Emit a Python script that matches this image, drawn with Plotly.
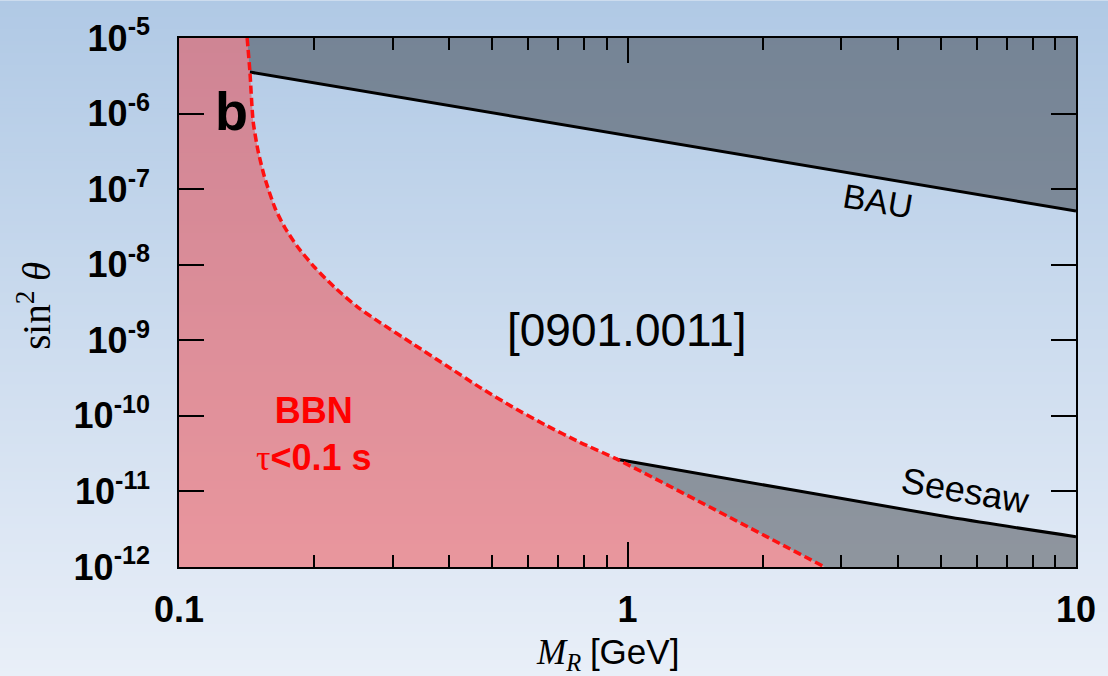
import plotly.graph_objects as go

# ---------------- data ----------------
bbn_mass = [0.1419, 0.1439, 0.1463, 0.1501, 0.1553, 0.1636, 0.1722, 0.1843, 0.2008,
            0.2224, 0.2506, 0.2802, 0.3323, 0.3943, 0.4677, 0.5546, 0.6583, 0.7806,
            0.947, 2.752]
bbn_sin2 = [1e-5, 3.61e-6, 7.91e-7, 3.18e-7, 1.414e-7, 5.68e-8, 3.10e-8, 1.686e-8, 9.19e-9,
            5.00e-9, 2.725e-9, 1.728e-9, 8.97e-10, 4.64e-10, 2.40e-10, 1.306e-10, 7.49e-11,
            4.51e-11, 2.67e-11, 1e-12]

bau_mass = [0.1439, 10.0]
bau_sin2 = [3.54e-6, 5.14e-8]

seesaw_mass = [0.947, 2.411, 5.2, 10.0]
seesaw_sin2 = [2.67e-11, 1.01e-11, 4.58e-12, 2.52e-12]

x_range = [0.1, 10.0]
y_range = [1e-12, 1e-5]

y_tickvals = [1e-5, 1e-6, 1e-7, 1e-8, 1e-9, 1e-10, 1e-11, 1e-12]
y_ticktext = ["10<sup>-5</sup>", "10<sup>-6</sup>", "10<sup>-7</sup>", "10<sup>-8</sup>",
              "10<sup>-9</sup>", "10<sup>-10</sup>", "10<sup>-11</sup>", "10<sup>-12</sup>"]
x_tickvals = [0.1, 1, 10]
x_ticktext = ["0.1", "1", "10"]
x_minor_vals = [0.2, 0.3, 0.4, 0.5, 0.6, 0.7, 0.8, 0.9, 2, 3, 4, 5, 6, 7, 8, 9]

# ---------------- figure ----------------
W, H = 1108, 676
ML, MR, MT, MB = 179, 30, 37, 109
PH = H - MT - MB

fig = go.Figure()

# red BBN region
red_x = [x_range[0]] + bbn_mass + [x_range[0]]
red_y = [y_range[1]] + bbn_sin2 + [y_range[0]]
fig.add_trace(go.Scatter(x=red_x, y=red_y, fill="toself", mode="none",
                         fillcolor="rgba(245,35,35,0.42)", hoverinfo="skip", showlegend=False))

# BAU excluded region (above the line)
bau_x = bau_mass + [x_range[1], bbn_mass[0]]
bau_y = bau_sin2 + [y_range[1], y_range[1]]
fig.add_trace(go.Scatter(x=bau_x, y=bau_y, fill="toself", mode="none",
                         fillcolor="rgba(55,62,70,0.5)", hoverinfo="skip", showlegend=False))

# Seesaw excluded region (below the line, right of BBN)
ss_x = seesaw_mass + [x_range[1], bbn_mass[-1]]
ss_y = seesaw_sin2 + [y_range[0], y_range[0]]
fig.add_trace(go.Scatter(x=ss_x, y=ss_y, fill="toself", mode="none",
                         fillcolor="rgba(62,66,72,0.5)", hoverinfo="skip", showlegend=False))

# lines
fig.add_trace(go.Scatter(x=bau_mass, y=bau_sin2, mode="lines",
                         line=dict(color="black", width=3), showlegend=False))
fig.add_trace(go.Scatter(x=seesaw_mass, y=seesaw_sin2, mode="lines",
                         line=dict(color="black", width=3, shape="spline"), showlegend=False))
fig.add_trace(go.Scatter(x=bbn_mass, y=bbn_sin2, mode="lines",
                         line=dict(color="#ff1010", width=3.5, dash="8px,4px", shape="spline",
                                   smoothing=0.6),
                         showlegend=False))

# background gradient
top = (176, 201, 229)
bot = (233, 239, 248)
shapes = []
step = 4
for py in range(0, H, step):
    t = (py + step / 2) / H
    c = tuple(int(round(top[i] + (bot[i] - top[i]) * t)) for i in range(3))
    y1 = (H - MB - py) / PH
    y0 = (H - MB - py - step - 1) / PH
    shapes.append(dict(type="rect", xref="paper", yref="paper", x0=-0.3, x1=1.1,
                       y0=y0, y1=y1, fillcolor="rgb(%d,%d,%d)" % c,
                       line=dict(width=0), layer="below"))

def px2paper(px, py):
    return (px - ML) / (W - ML - MR), (H - MB - py) / PH

annots = []
def ann(text, px, py, size, color="black", family="Liberation Sans", weight="normal",
        angle=0):
    x, y = px2paper(px, py)
    annots.append(dict(text=text, x=x, y=y, xref="paper", yref="paper", showarrow=False,
                       xanchor="center", yanchor="middle", textangle=angle,
                       font=dict(size=size, color=color, family=family, weight=weight)))

ann("b", 232, 110, 54, weight="bold")
ann("BBN<br><span style='font-family:Liberation Serif;font-weight:normal'>τ</span><0.1 s",
    314, 434, 36, color="#ff0000", weight="bold")
ann("[0901.0011]", 628, 330, 46)
ann("BAU", 880, 200, 34, angle=9.6)
ann("Seesaw", 967, 490, 36, angle=9.6)
ann("sin<sup>2</sup> <i>θ</i>", 34, 305, 39, family="Liberation Serif", angle=-90)
ann("<i>M</i><sub><i>R</i></sub> <span style='font-family:Liberation Sans'>[GeV]</span>",
    608, 654, 35, family="Liberation Serif")

fig.update_layout(
    width=W, height=H,
    margin=dict(l=ML, r=MR, t=MT, b=MB, pad=0),
    paper_bgcolor="rgb(205,220,238)",
    plot_bgcolor="rgba(0,0,0,0)",
    shapes=shapes,
    annotations=annots,
    showlegend=False,
)

fig.update_xaxes(type="log", range=[-1, 1], showgrid=False, zeroline=False,
                 showline=True, linecolor="black", linewidth=1.5, mirror="ticks",
                 ticks="inside", ticklen=25, tickwidth=1.5, tickcolor="black",
                 tickvals=x_tickvals, ticktext=x_ticktext,
                 tickfont=dict(family="Liberation Sans", size=36, color="black", weight="bold"),
                 ticklabelstandoff=10,
                 minor=dict(ticks="inside", ticklen=12, tickwidth=1.5, tickcolor="black",
                            showgrid=False, tickvals=x_minor_vals))
fig.update_yaxes(type="log", range=[-12, -5], showgrid=False, zeroline=False,
                 showline=True, linecolor="black", linewidth=1.5, mirror="ticks",
                 ticks="inside", ticklen=25, tickwidth=1.5, tickcolor="black",
                 tickvals=y_tickvals, ticktext=y_ticktext,
                 tickfont=dict(family="Liberation Sans", size=36, color="black", weight="bold"),
                 ticklabelstandoff=20)

fig.write_html("out.html")
